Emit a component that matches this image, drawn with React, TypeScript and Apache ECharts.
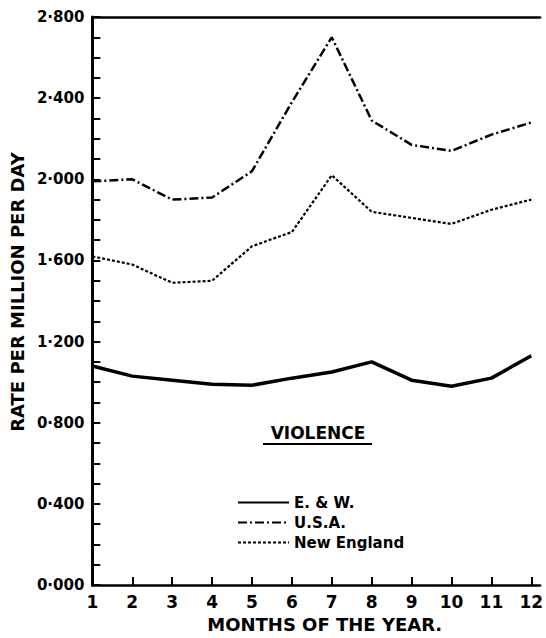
import React, { useEffect, useRef } from "react";
import * as echarts from "echarts";

const months = [1, 2, 3, 4, 5, 6, 7, 8, 9, 10, 11, 12];
const tickMonths = [2, 3, 4, 5, 6, 7, 8, 9, 10, 11, 12];
const ewValues = [1.08, 1.03, 1.01, 0.99, 0.985, 1.02, 1.05, 1.1, 1.01, 0.98, 1.02, 1.13];
const usaValues = [1.99, 2.0, 1.9, 1.91, 2.04, 2.38, 2.7, 2.29, 2.17, 2.14, 2.22, 2.28];
const neValues = [1.62, 1.58, 1.49, 1.5, 1.67, 1.74, 2.02, 1.84, 1.81, 1.78, 1.85, 1.9];
const seriesNames = ["E. & W.", "U.S.A.", "New England"];
const FONT = "DejaVu Sans";

export default function App() {
  const ref = useRef<HTMLDivElement>(null);
  useEffect(() => {
    if (!ref.current) return;
    const chart = echarts.init(ref.current, null, { renderer: "svg" });
    const toData = (vals: number[]) => months.map((m, i) => [m, vals[i]]);
    chart.setOption({
      animation: false,
      backgroundColor: "#ffffff",
      grid: { left: 86, right: 0, top: 17, bottom: 47 },
      xAxis: [
        {
          type: "value",
          min: 1,
          max: 12.22,
          position: "bottom",
          axisLine: { show: true, onZero: false, lineStyle: { color: "#000", width: 2.5 } },
          axisTick: { show: true, inside: true, length: 8, lineStyle: { color: "#000", width: 2 }, customValues: tickMonths },
          axisLabel: {
            customValues: months,
            fontFamily: FONT,
            fontWeight: "bold",
            fontSize: 17,
            color: "#000",
            margin: 8,
          },
          splitLine: { show: false },
          name: "MONTHS OF THE YEAR.",
          nameLocation: "middle",
          nameGap: 28,
          nameTextStyle: { fontFamily: FONT, fontWeight: "bold", fontSize: 18, color: "#000", padding: [0, 0, 0, 17] },
        },
        {
          type: "value",
          min: 1,
          max: 12.22,
          position: "top",
          axisLine: { show: true, onZero: false, lineStyle: { color: "#000", width: 2.5 } },
          axisTick: { show: false },
          axisLabel: { show: false },
          splitLine: { show: false },
        },
      ],
      yAxis: {
        type: "value",
        min: 0,
        max: 2.8,
        interval: 0.4,
        axisLine: { show: true, onZero: false, lineStyle: { color: "#000", width: 3 } },
        axisTick: { show: true, inside: true, length: 8, lineStyle: { color: "#000", width: 2 } },
        minorTick: { show: true, splitNumber: 4, length: 8, lineStyle: { color: "#000", width: 2 } },
        axisLabel: {
          formatter: (v: number) => v.toFixed(3).replace(".", "\u00b7"),
          fontFamily: FONT,
          fontWeight: "bold",
          fontSize: 15,
          color: "#000",
          margin: 8,
        },
        splitLine: { show: false },
        minorSplitLine: { show: false },
        name: "RATE PER MILLION PER DAY",
        nameLocation: "middle",
        nameRotate: 90,
        nameGap: 56,
        nameTextStyle: { fontFamily: FONT, fontWeight: "bold", fontSize: 18, color: "#000", padding: [0, 0, 0, 18] },
      },
      legend: {
        data: seriesNames,
        orient: "vertical",
        left: 232,
        top: 490,
        itemWidth: 51,
        itemHeight: 14,
        itemGap: 5,
        itemStyle: { opacity: 0 },
        textStyle: { fontFamily: FONT, fontWeight: "bold", fontSize: 15, color: "#000" },
      },
      graphic: [
        {
          type: "text",
          x: 318,
          y: 433,
          style: {
            text: "VIOLENCE",
            fontFamily: FONT,
            fontWeight: "bold",
            fontSize: 17,
            fill: "#000",
            align: "center",
            verticalAlign: "middle",
          },
        },
        {
          type: "line",
          shape: { x1: 263, y1: 444, x2: 372, y2: 444 },
          style: { stroke: "#000", lineWidth: 2 },
        },
      ],
      series: [
        {
          name: seriesNames[0],
          type: "line",
          symbol: "none",
          data: toData(ewValues),
          lineStyle: { color: "#000", width: 3.5, type: "solid" },
          itemStyle: { color: "#000" },
        },
        {
          name: seriesNames[1],
          type: "line",
          symbol: "none",
          data: toData(usaValues),
          lineStyle: { color: "#000", width: 2.5, type: [9, 3, 2, 3] },
          itemStyle: { color: "#000" },
        },
        {
          name: seriesNames[2],
          type: "line",
          symbol: "none",
          data: toData(neValues),
          lineStyle: { color: "#000", width: 2.2, type: [3, 2] },
          itemStyle: { color: "#000" },
        },
      ],
    });
    return () => chart.dispose();
  }, []);
  return (
    <div
      ref={ref}
      style={{ position: "absolute", left: 0, top: 0, width: 546, height: 638, background: "#fff" }}
    />
  );
}
